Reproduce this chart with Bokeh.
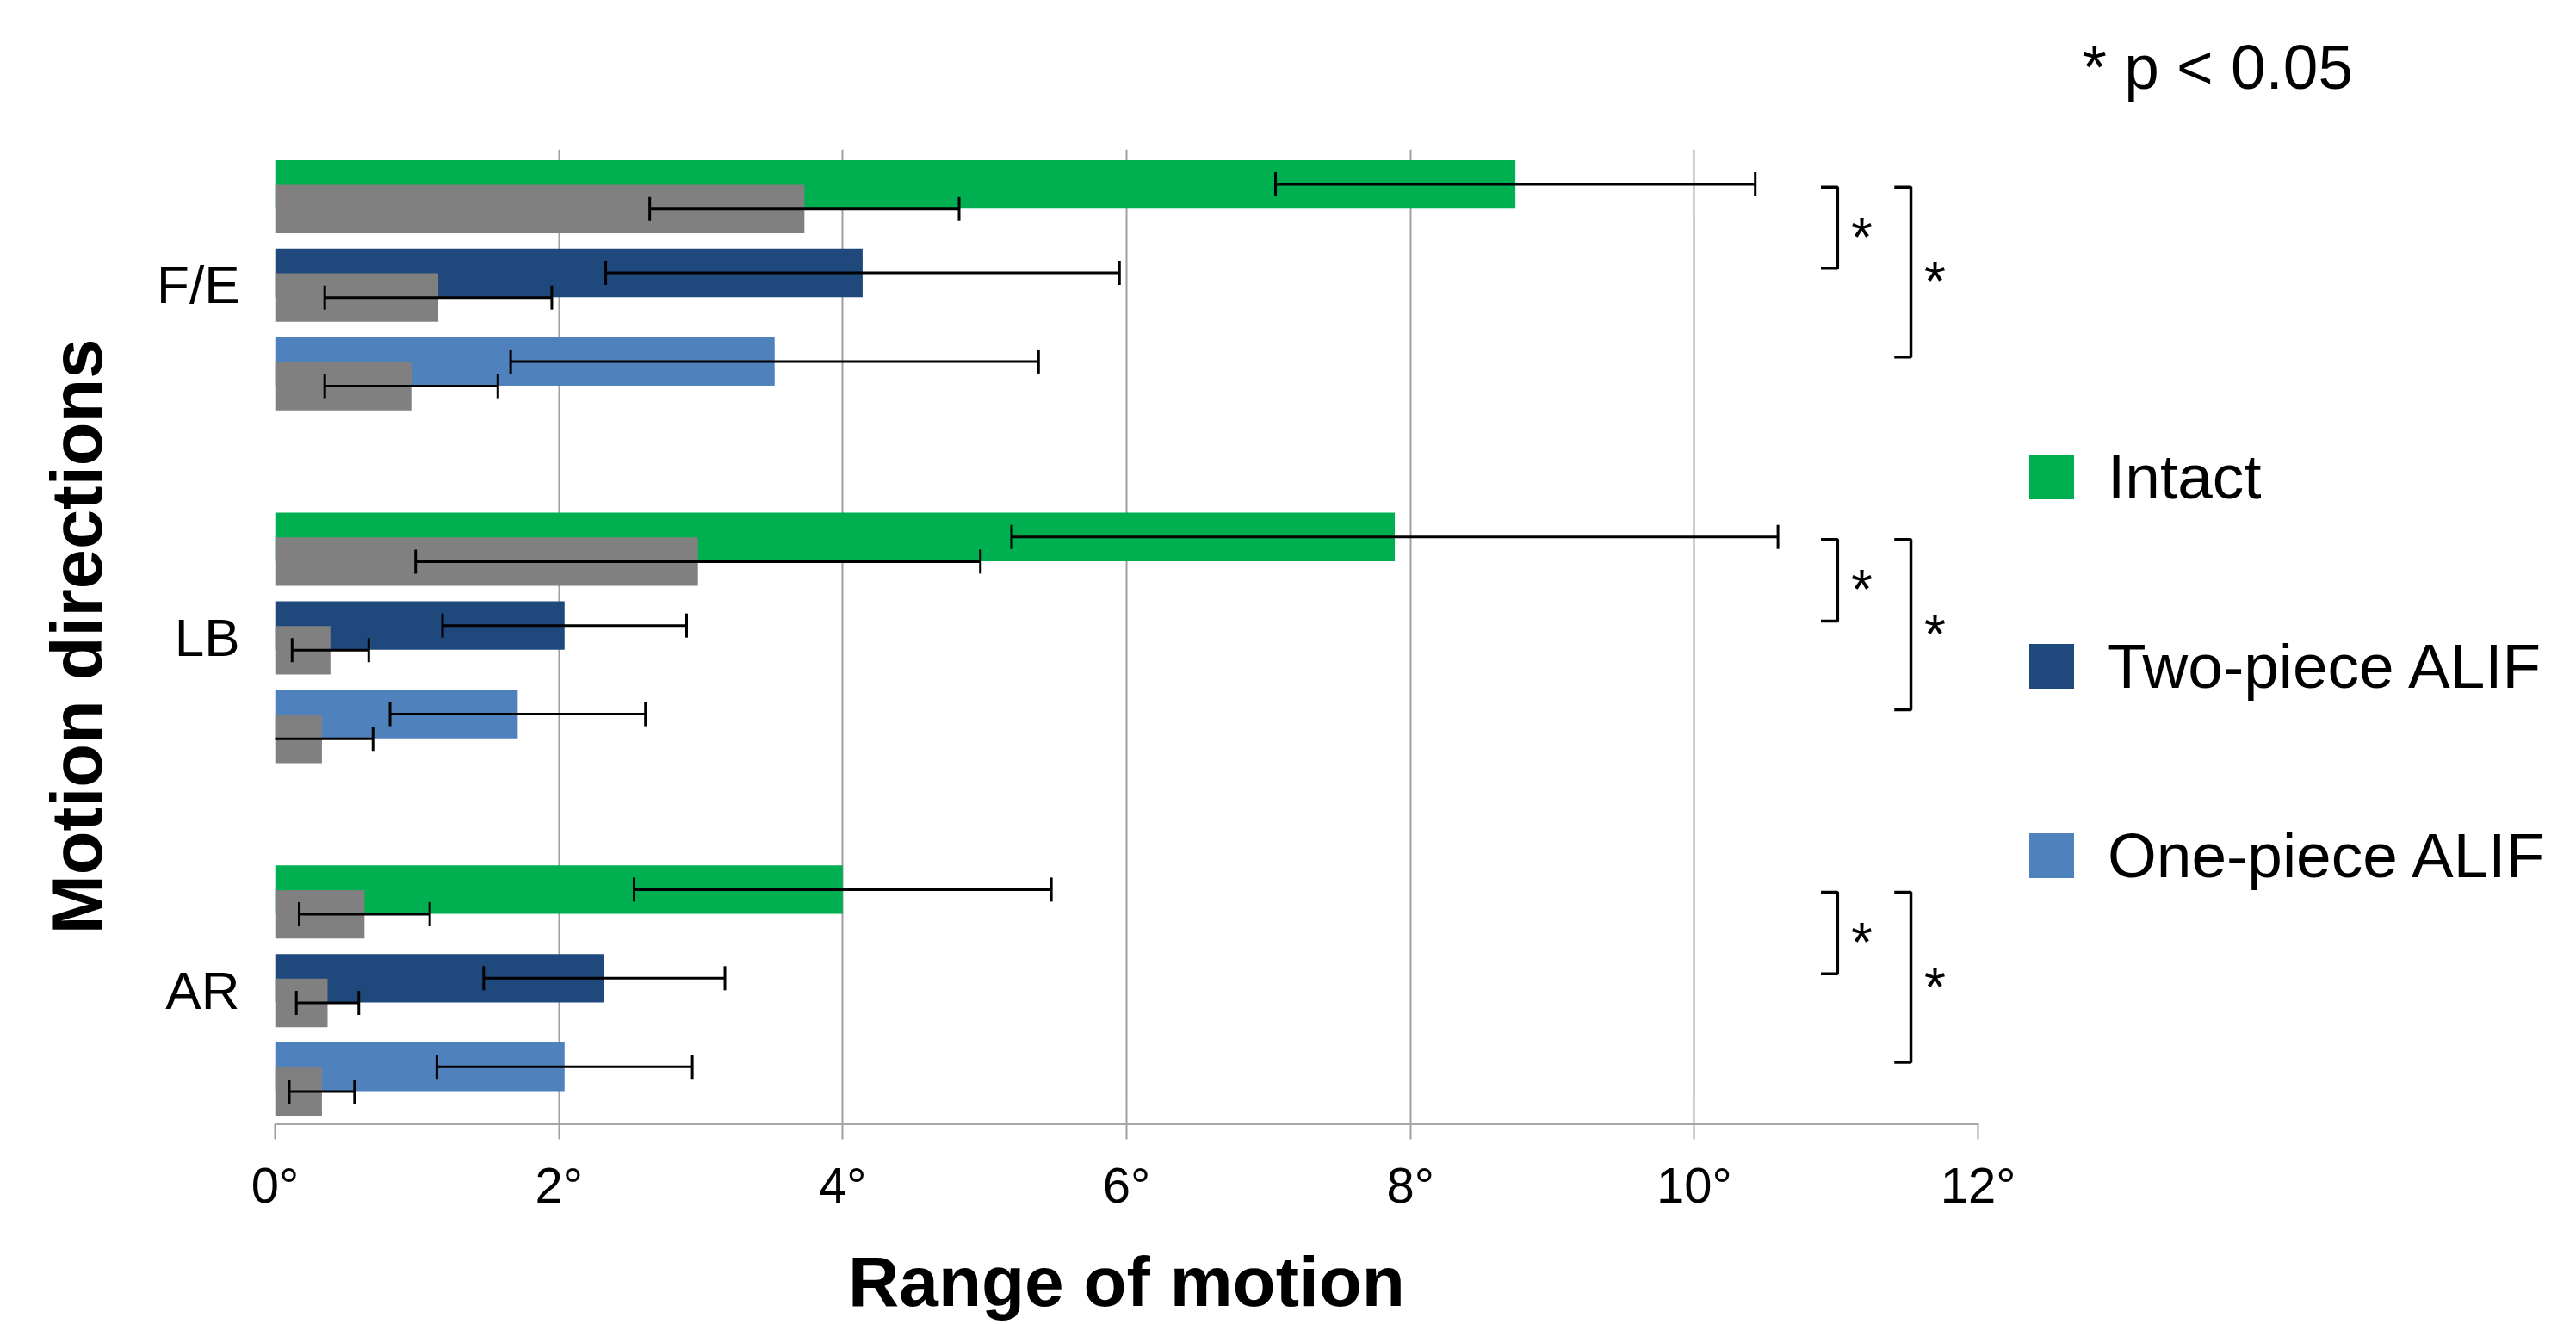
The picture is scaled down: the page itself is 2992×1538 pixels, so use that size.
from bokeh.plotting import figure
from bokeh.layouts import row
from bokeh.models import (ColumnDataSource, Range1d, FixedTicker, Whisker, TeeHead,
                          Legend, LegendItem)
from bokeh.embed import file_html
from bokeh.resources import INLINE
from bokeh.core.properties import value

# ---------------- data ----------------
directions = ["F/E", "LB", "AR"]
series_names = ["Intact", "Two-piece ALIF", "One-piece ALIF"]

intact_mean = [8.74, 7.89, 4.00]
intact_sd = [1.69, 2.70, 1.47]
intact_grey_mean = [3.73, 2.98, 0.63]
intact_grey_sd = [1.09, 1.99, 0.46]

two_mean = [4.14, 2.04, 2.32]
two_sd = [1.81, 0.86, 0.85]
two_grey_mean = [1.15, 0.39, 0.37]
two_grey_sd = [0.80, 0.27, 0.22]

one_mean = [3.52, 1.71, 2.04]
one_sd = [1.86, 0.90, 0.90]
one_grey_mean = [0.96, 0.33, 0.33]
one_grey_sd = [0.61, 0.36, 0.23]

x_ticks = [0, 2, 4, 6, 8, 10, 12]
x_tick_labels = ["0°", "2°", "4°", "6°", "8°", "10°", "12°"]

# significance brackets: (series a, series b, label) for every direction
comparisons = [(0, 1, "*"), (0, 2, "*")]
p_note = "* p < 0.05"

# ---------------- styling / layout ----------------
colors = ["#00B050", "#1F497D", "#4F81BD"]
grey = "#808080"
FONT = "Liberation Sans"

GROUP_STEP = 4.0
group_centers = [i * GROUP_STEP for i in range(len(directions))]
BAR_OFFSETS = [-1.14, -0.135, 0.87]
GREY_SHIFT = 0.28
BAR_H = 0.55

Y_TOP = -1.536
Y_BOTTOM = 9.517

W_MAIN = 2350
W_SIDE = 640
H = 1536

p = figure(width=W_MAIN, height=H,
           x_range=Range1d(x_ticks[0], x_ticks[-1]),
           y_range=Range1d(Y_BOTTOM, Y_TOP),
           output_backend="svg", toolbar_location=None,
           min_border_left=319, min_border_right=W_MAIN - 2297,
           min_border_top=173, min_border_bottom=219)
p.outline_line_color = None

means = [intact_mean, two_mean, one_mean]
sds = [intact_sd, two_sd, one_sd]
grey_means = [intact_grey_mean, two_grey_mean, one_grey_mean]
grey_sds = [intact_grey_sd, two_grey_sd, one_grey_sd]

sources = []
for i in range(3):
    ys = [c + BAR_OFFSETS[i] for c in group_centers]
    src = ColumnDataSource(dict(
        y=ys, right=means[i],
        lo=[m - s for m, s in zip(means[i], sds[i])],
        hi=[m + s for m, s in zip(means[i], sds[i])]))
    p.hbar(y="y", left=0, right="right", height=BAR_H, source=src,
           fill_color=colors[i], line_color=None)
    sources.append(src)

for i in range(3):
    ys = [c + BAR_OFFSETS[i] + GREY_SHIFT for c in group_centers]
    src = ColumnDataSource(dict(
        y=ys, right=grey_means[i],
        lo=[m - s for m, s in zip(grey_means[i], grey_sds[i])],
        hi=[m + s for m, s in zip(grey_means[i], grey_sds[i])]))
    p.hbar(y="y", left=0, right="right", height=BAR_H, source=src,
           fill_color=grey, line_color=None)
    sources.append(src)

for src in sources:
    w = Whisker(source=src, base="y", lower="lo", upper="hi", dimension="width",
                line_color="black", line_width=3, level="overlay",
                lower_head=TeeHead(size=28, line_color="black", line_width=3),
                upper_head=TeeHead(size=28, line_color="black", line_width=3))
    p.add_layout(w)

# significance brackets
BR_X = [11.01, 11.527]
ARM = 0.117
STAR_DX = 0.17
STAR_DY = 0.11
xs, ys_, sx, sy, st = [], [], [], [], []
for c in group_centers:
    for k, (a, b, lab) in enumerate(comparisons):
        y0 = c + BAR_OFFSETS[a] + 0.03
        y1 = c + BAR_OFFSETS[b] - 0.05
        xv = BR_X[k]
        xs.append([xv - ARM, xv, xv, xv - ARM])
        ys_.append([y0, y0, y1, y1])
        sx.append(xv + STAR_DX)
        sy.append((y0 + y1) / 2 + STAR_DY)
        st.append(lab)
p.multi_line(xs=xs, ys=ys_, line_color="black", line_width=3.5)
p.text(x=sx, y=sy, text=st, text_align="center", text_baseline="alphabetic",
       text_font=value(FONT), text_font_size="64px", text_color="black")

# axes
p.xaxis.ticker = FixedTicker(ticks=x_ticks)
p.xaxis.major_label_overrides = {t: l for t, l in zip(x_ticks, x_tick_labels)}
p.xaxis.axis_line_color = "#A6A6A6"
p.xaxis.axis_line_width = 3
p.xaxis.major_tick_line_color = "#A0A0A0"
p.xaxis.major_tick_line_width = 2
p.xaxis.major_tick_out = 18
p.xaxis.major_tick_in = 0
p.xaxis.minor_tick_line_color = None
p.xaxis.major_label_standoff = 20
p.xaxis.major_label_text_font = FONT
p.xaxis.major_label_text_font_size = "58px"
p.xaxis.major_label_text_color = "black"
p.xaxis.axis_label = "Range of motion"
p.xaxis.axis_label_text_font = FONT
p.xaxis.axis_label_text_font_size = "82px"
p.xaxis.axis_label_text_font_style = "bold"
p.xaxis.axis_label_text_color = "black"
p.xaxis.axis_label_standoff = 31

p.yaxis.ticker = FixedTicker(ticks=group_centers)
p.yaxis.major_label_overrides = {c: d for c, d in zip(group_centers, directions)}
p.yaxis.axis_line_color = None
p.yaxis.major_tick_line_color = None
p.yaxis.minor_tick_line_color = None
p.yaxis.major_label_standoff = 35
p.yaxis.major_label_text_font = FONT
p.yaxis.major_label_text_font_size = "62px"
p.yaxis.major_label_text_color = "black"
p.yaxis.axis_label = "Motion directions"
p.yaxis.axis_label_text_font = FONT
p.yaxis.axis_label_text_font_size = "83px"
p.yaxis.axis_label_text_font_style = "bold"
p.yaxis.axis_label_text_color = "black"
p.yaxis.axis_label_standoff = 43

p.ygrid.visible = False
p.xgrid.grid_line_color = "#A0A0A0"
p.xgrid.grid_line_width = 2

# ---------------- side panel: legend and significance note ----------------
side = figure(width=W_SIDE, height=H, x_range=Range1d(0, W_SIDE), y_range=Range1d(H, 0),
              output_backend="svg", toolbar_location=None,
              x_axis_type=None, y_axis_type=None,
              min_border_left=0, min_border_right=0, min_border_top=0, min_border_bottom=0)
side.outline_line_color = None
side.grid.visible = False
try:
    side.frame_align = False
except AttributeError:
    pass

# legend keys (zero-width bars placed outside the visible range)
keys = [side.hbar(y=[-1000], left=[0], right=[0], height=1, fill_color=c, line_color=None)
        for c in colors]
legend = Legend(items=[LegendItem(label=n, renderers=[r]) for n, r in zip(series_names, keys)],
                location=(0, 501), orientation="vertical",
                glyph_width=65, glyph_height=65, label_height=65, label_standoff=33,
                spacing=137, padding=0, margin=0,
                border_line_alpha=0, background_fill_alpha=0,
                label_text_font=FONT, label_text_font_size="73px", label_text_color="black")
side.add_layout(legend)

side.text(x=[68], y=[77], text=[p_note], text_align="left", text_baseline="alphabetic",
          text_font=value(FONT), text_font_size="73px", text_color="black")

layout = row(p, side, spacing=0)
open("out.html", "w").write(file_html(layout, INLINE))
